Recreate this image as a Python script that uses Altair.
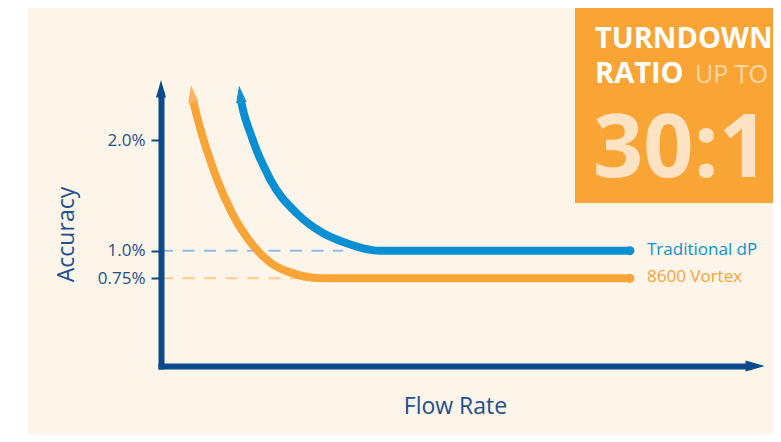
import altair as alt
import pandas as pd

# ---------------- data ----------------
series = ["Traditional dP", "8600 Vortex"]
line_colors = ["#0a90d2", "#f9a437"]
arrow_colors = ["#1190d2", "#fbb462"]
dash_colors = ["#8fbbe8", "#fccb8e"]

blue_x = [13.66, 14.03, 15.14, 16.38, 17.81, 18.62, 23.08, 27.60, 31.58, 34.18, 37.24, 79.76]
blue_y = [2.343, 2.253, 2.072, 1.892, 1.726, 1.639, 1.338, 1.157, 1.067, 1.024, 1.0, 1.0]
orange_x = [5.49, 6.04, 7.14, 8.42, 9.52, 12.02, 15.70, 18.54, 21.94, 27.60, 79.76]
orange_y = [2.345, 2.231, 2.020, 1.810, 1.647, 1.346, 1.044, 0.895, 0.804, 0.75, 0.75]

flat_levels = [1.0, 0.75]
dash_end_x = [31.0, 25.0]

tick_values = [0.75, 1.0, 2.0]
tick_labels = ["0.75%", "1.0%", "2.0%"]

x_domain = [0, 100]
y_domain = [-0.042, 2.416]

badge_words = ["TURNDOWN", "RATIO", "UP TO", "30:1"]

AXIS = "#0a4a8c"
LABEL = "#1d4f8f"
CREAM = "#fdf5ea"
BOX = "#f9a535"

# ---------------- tables ----------------
curves = pd.concat([
    pd.DataFrame({"x": blue_x, "y": blue_y, "s": series[0], "o": range(len(blue_x))}),
    pd.DataFrame({"x": orange_x, "y": orange_y, "s": series[1], "o": range(len(orange_x))}),
])
starts = pd.DataFrame({"x": [blue_x[0], orange_x[0]], "y": [blue_y[0], orange_y[0]],
                       "s": series, "a": [352, 352]})
ends = pd.DataFrame({"x": [blue_x[-1], orange_x[-1]], "y": [blue_y[-1], orange_y[-1]], "s": series})
dashes = pd.DataFrame({"x": [0, 0], "x1": dash_end_x, "y": flat_levels, "s": series})
corner_up = pd.DataFrame({"x": [x_domain[0]], "y": [y_domain[1]]})
corner_right = pd.DataFrame({"x": [x_domain[1]], "y": [y_domain[0]]})

label_expr = " : ".join(
    [f"datum.value == {v} ? '{t}'" for v, t in zip(tick_values, tick_labels)]
) + " : ''"

xs = alt.Scale(domain=x_domain, nice=False, zero=False)
ys = alt.Scale(domain=y_domain, nice=False, zero=False)

x_axis = alt.Axis(title="Flow Rate", labels=False, ticks=False, grid=False,
                  domainColor=AXIS, domainWidth=6, domainCap="square", zindex=1,
                  titleX=294, titleY=47, titleBaseline="alphabetic", titleAlign="center")
y_axis = alt.Axis(title="Accuracy", values=tick_values, labelExpr=label_expr,
                  grid=False, domainColor=AXIS, domainWidth=6, domainCap="square",
                  tickColor=AXIS, tickWidth=2, tickSize=10, labelPadding=6, zindex=1,
                  labelColor=LABEL, titleX=-88, titleY=140, titleAngle=270,
                  titleBaseline="alphabetic", titleAlign="center")

X = alt.X("x:Q", scale=xs, axis=x_axis)
Y = alt.Y("y:Q", scale=ys, axis=y_axis)
line_col = alt.Color("s:N", scale=alt.Scale(domain=series, range=line_colors), legend=None)

one = alt.Data(values=[{}])

# ---------------- background pieces ----------------
bg = alt.Chart(one).mark_rect(color=CREAM).encode(
    x=alt.value(-133), x2=alt.value(620), y=alt.value(-87), y2=alt.value(345)
)
box = alt.Chart(one).mark_rect(color=BOX).encode(
    x=alt.value(414), x2=alt.value(620), y=alt.value(-87), y2=alt.value(109)
)
t1 = alt.Chart(one).mark_text(align="left", baseline="alphabetic", font="Open Sans",
                              fontWeight="bold", fontSize=29, color="white").encode(
    x=alt.value(434), y=alt.value(-46), text=alt.value(badge_words[0]))
t2 = alt.Chart(one).mark_text(align="left", baseline="alphabetic", font="Open Sans",
                              fontWeight="bold", fontSize=29, color="white").encode(
    x=alt.value(434), y=alt.value(-11), text=alt.value(badge_words[1]))
t3 = alt.Chart(one).mark_text(align="left", baseline="alphabetic", font="Open Sans",
                              fontSize=25, color="#fdd8a4").encode(
    x=alt.value(534), y=alt.value(-11), text=alt.value(badge_words[2]))
t4 = alt.Chart(one).mark_text(align="left", baseline="alphabetic", font="Open Sans",
                              fontWeight="bold", fontSize=88, color="#fde3c4").encode(
    x=alt.value(432), y=alt.value(83), text=alt.value(badge_words[3]))

# ---------------- chart ----------------
dash_layer = alt.Chart(dashes).mark_rule(strokeWidth=2, strokeDash=[12, 9.5]).encode(
    x=X, x2="x1:Q", y=Y,
    color=alt.Color("s:N", scale=alt.Scale(domain=series, range=dash_colors), legend=None),
)

curve_layer = alt.Chart(curves).mark_line(strokeWidth=8, interpolate="monotone").encode(
    x=X, y=Y, color=line_col, detail="s:N", order="o:Q",
)

end_dots = alt.Chart(ends).mark_point(shape="circle", filled=True, size=80, opacity=1).encode(
    x=X, y=Y, color=line_col)

end_labels = alt.Chart(ends).mark_text(align="left", baseline="middle", dx=17, dy=-1,
                                       font="Open Sans", fontSize=17).encode(
    x=X, y=Y, text="s:N", color=line_col)

curve_arrows = alt.Chart(starts).mark_point(
    shape="M-0.5,0.05L0.5,0.05L0,-1.6Z", filled=True, size=441, opacity=1,
    strokeWidth=0).encode(
    x=X, y=Y, angle=alt.Angle("a:Q", scale=None),
    color=alt.Color("s:N", scale=alt.Scale(domain=series, range=arrow_colors), legend=None))

up_arrow = alt.Chart(corner_up).mark_point(
    shape="M-0.5,0.35L0.5,0.35L0,-1.4Z", filled=True, size=400, opacity=1,
    strokeWidth=0, color=AXIS).encode(x=X, y=Y)
right_arrow = alt.Chart(corner_right).mark_point(
    shape="M-0.35,-0.55L-0.35,0.55L1.55,0Z", filled=True, size=400, opacity=1,
    strokeWidth=0, color=AXIS).encode(x=X, y=Y)

chart = alt.layer(
    bg, box, t1, t2, t3, t4,
    dash_layer, curve_layer, end_dots, end_labels, curve_arrows, up_arrow, right_arrow,
).resolve_scale(color="independent").properties(
    width=588, height=272,
    padding={"left": 153, "top": 86, "right": 24, "bottom": 68},
    autosize=alt.AutoSizeParams(type="none"),
    background="white",
).configure_view(stroke=None).configure_axis(
    labelFont="Open Sans", labelFontSize=17, titleFont="Open Sans", titleFontSize=23,
    titleFontWeight="normal", titleColor=LABEL, labelColor=LABEL,
)

chart.save("out.html", embed_options={"renderer": "svg", "actions": False})
